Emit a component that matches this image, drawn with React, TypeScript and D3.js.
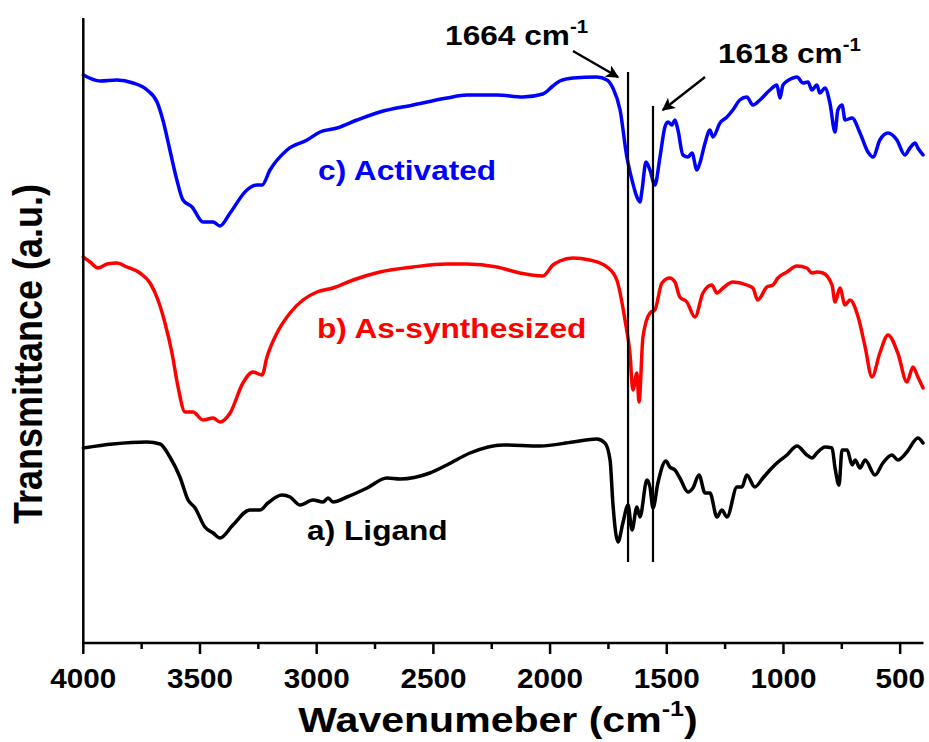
import React from "react";
import * as d3 from "d3";

// wavenumber (cm-1), transmittance (a.u., offset)
const ligandWn = [4000, 3873, 3727, 3671, 3629, 3586, 3551, 3521, 3479, 3444, 3414, 3359, 3286, 3243, 3209, 3149, 3114, 3071, 3016, 2973, 2951, 2930, 2870, 2784, 2699, 2643, 2515, 2442, 2343, 2202, 2043, 1902, 1800, 1765, 1743, 1731, 1709, 1688, 1666, 1649, 1628, 1615, 1585, 1572, 1559, 1538, 1504, 1487, 1465, 1444, 1409, 1388, 1362, 1336, 1315, 1285, 1264, 1242, 1199, 1178, 1157, 1123, 1088, 1058, 1028, 985, 942, 900, 878, 857, 822, 792, 779, 762, 749, 727, 706, 693, 672, 650, 608, 574, 535, 510, 471, 424, 402];
const ligandT = [195, 199, 201, 199, 186, 166, 143, 135, 116, 110, 105, 118, 133, 133, 140, 148, 146, 138, 143, 141, 145, 141, 146, 155, 165, 164, 170, 178, 190, 198, 197, 201, 204, 200, 183, 140, 101, 120, 138, 113, 136, 126, 163, 156, 135, 160, 182, 176, 173, 165, 151, 155, 168, 150, 150, 126, 133, 126, 156, 156, 168, 156, 165, 173, 180, 188, 197, 188, 185, 190, 196, 195, 175, 158, 193, 193, 178, 183, 175, 183, 168, 180, 188, 183, 191, 205, 200];

const asSynWn = [4000, 3971, 3937, 3898, 3856, 3813, 3757, 3714, 3680, 3650, 3620, 3594, 3564, 3530, 3487, 3444, 3414, 3371, 3316, 3273, 3234, 3213, 3170, 3114, 3059, 2999, 2930, 2844, 2729, 2587, 2442, 2356, 2228, 2130, 2031, 1988, 1958, 1902, 1830, 1756, 1714, 1679, 1658, 1645, 1628, 1619, 1602, 1572, 1551, 1521, 1487, 1465, 1444, 1414, 1379, 1345, 1307, 1285, 1259, 1217, 1157, 1131, 1110, 1071, 1045, 1024, 985, 942, 900, 878, 857, 831, 792, 779, 758, 736, 715, 680, 650, 621, 587, 552, 510, 471, 445, 424, 402];
const asSynT = [386, 381, 375, 379, 380, 376, 370, 360, 343, 320, 290, 256, 231, 231, 223, 225, 221, 230, 260, 271, 268, 286, 310, 330, 343, 351, 355, 363, 371, 376, 379, 379, 376, 370, 367, 378, 382, 385, 383, 376, 363, 323, 290, 253, 270, 241, 306, 330, 333, 360, 365, 361, 346, 341, 326, 350, 358, 350, 355, 361, 358, 355, 343, 356, 358, 365, 371, 377, 375, 370, 371, 370, 358, 341, 355, 338, 343, 326, 296, 266, 290, 308, 290, 261, 276, 266, 255];

const activWn = [4000, 3928, 3856, 3787, 3727, 3684, 3659, 3629, 3599, 3573, 3534, 3487, 3444, 3414, 3371, 3299, 3256, 3234, 3200, 3127, 3041, 2986, 2913, 2827, 2729, 2587, 2442, 2356, 2228, 2117, 2031, 1988, 1958, 1902, 1800, 1756, 1731, 1700, 1671, 1649, 1628, 1615, 1606, 1589, 1572, 1551, 1529, 1508, 1495, 1478, 1465, 1452, 1431, 1409, 1392, 1371, 1358, 1336, 1315, 1302, 1272, 1242, 1217, 1187, 1157, 1131, 1101, 1058, 1028, 1015, 1002, 959, 942, 916, 895, 878, 857, 844, 822, 801, 779, 767, 749, 736, 706, 672, 638, 616, 587, 552, 514, 480, 458, 436, 424, 402];
const activT = [568, 562, 563, 560, 553, 541, 523, 493, 463, 443, 436, 421, 421, 417, 430, 453, 458, 458, 473, 493, 503, 511, 515, 523, 531, 538, 545, 548, 548, 546, 549, 557, 562, 565, 566, 563, 555, 533, 486, 463, 446, 441, 453, 481, 473, 458, 486, 516, 521, 518, 523, 513, 488, 486, 490, 473, 480, 500, 513, 506, 520, 526, 533, 543, 546, 538, 543, 553, 558, 545, 558, 565, 566, 560, 561, 553, 558, 550, 555, 540, 511, 533, 538, 523, 525, 510, 491, 486, 503, 510, 503, 488, 495, 500, 495, 488];

const xMajorTicks = [4000, 3500, 3000, 2500, 2000, 1500, 1000, 500];
const xMinorTicks = [3750, 3250, 2750, 2250, 1750, 1250, 750];

// marker lines: wavenumber, top, bottom
const markerWn = [1666, 1559];
const markerTop = [571, 537];
const markerBottom = [81, 81];

// annotation labels and arrows (data coords)
const annoText = ["1664", "1618"];
const annoTextWn = [2450, 1281];
const annoTextT = [598, 580];
const arrowFromWn = [1902, 1336];
const arrowFromT = [592, 566];
const arrowToWn = [1709, 1517];
const arrowToT = [566, 533];

const seriesNames = ["a) Ligand", "b) As-synthesized", "c) Activated"];
const seriesColors = ["#000000", "#ff0000", "#0000ff"];
const seriesLabelWn = [3041, 2999, 2994];
const seriesLabelT = [103, 305, 463];

const FONT = "'Liberation Sans', Arial, Helvetica, sans-serif";
const SX = 1.13;
const SX_TICK = 1.06;

export default function App() {
  const width = 929;
  const height = 742;
  const x = d3.scaleLinear().domain([4000, 400]).range([83.3, 923.5]);
  const y = d3.scaleLinear().domain([0, 625]).range([643, 18]);

  const series = [
    { wn: ligandWn, t: ligandT },
    { wn: asSynWn, t: asSynT },
    { wn: activWn, t: activT },
  ];
  const line = d3
    .line<[number, number]>()
    .x((d) => x(d[0]))
    .y((d) => y(d[1]))
    .curve(d3.curveMonotoneX);

  const axisY = y(0);

  return (
    <svg
      width={width}
      height={height}
      style={{ position: "absolute", left: 0, top: 0, background: "#fff" }}
      fontFamily={FONT}
      fontWeight="bold"
    >
      <defs>
        <marker
          id="arrowHead"
          viewBox="0 0 10 10"
          refX="9"
          refY="5"
          markerUnits="userSpaceOnUse"
          markerWidth="15"
          markerHeight="13"
          orient="auto"
        >
          <path d="M0,0 L10,5 L0,10 L2.5,5 z" fill="#000" />
        </marker>
      </defs>
      <rect x={0} y={0} width={width} height={height} fill="#fff" />

      {/* curves */}
      {series.map((s, i) => (
        <path
          key={i}
          d={line(s.wn.map((w, j) => [w, s.t[j]] as [number, number])) || ""}
          fill="none"
          stroke={seriesColors[i]}
          strokeWidth={3.5}
          strokeLinejoin="round"
          strokeLinecap="round"
        />
      ))}

      {/* marker lines */}
      {markerWn.map((w, i) => (
        <line
          key={i}
          x1={x(w)}
          x2={x(w)}
          y1={y(markerTop[i])}
          y2={y(markerBottom[i])}
          stroke="#000"
          strokeWidth={2.2}
        />
      ))}

      {/* arrows */}
      {arrowFromWn.map((w, i) => (
        <line
          key={i}
          x1={x(w)}
          y1={y(arrowFromT[i])}
          x2={x(arrowToWn[i])}
          y2={y(arrowToT[i])}
          stroke="#000"
          strokeWidth={2.4}
          markerEnd="url(#arrowHead)"
        />
      ))}

      {/* annotation labels */}
      {annoText.map((t, i) => (
        <g key={i} transform={`translate(${x(annoTextWn[i])},${y(annoTextT[i])}) scale(${SX},1)`}>
          <text fontSize={28} fill="#000">
            {t} cm
            <tspan fontSize={18} dy={-12}>-1</tspan>
          </text>
        </g>
      ))}

      {/* series labels */}
      {seriesNames.map((n, i) => (
        <g key={i} transform={`translate(${x(seriesLabelWn[i])},${y(seriesLabelT[i])}) scale(${SX},1)`}>
          <text fontSize={28} fill={seriesColors[i]}>{n}</text>
        </g>
      ))}

      {/* axes */}
      <line x1={x(4000)} x2={x(4000)} y1={y(625)} y2={axisY + 1} stroke="#000" strokeWidth={2.5} />
      <line x1={x(4000) - 1} x2={x(400)} y1={axisY} y2={axisY} stroke="#000" strokeWidth={2.5} />
      {xMajorTicks.map((t) => (
        <g key={t}>
          <line x1={x(t)} x2={x(t)} y1={axisY} y2={axisY + 11} stroke="#000" strokeWidth={2.5} />
          <g transform={`translate(${x(t)},688) scale(${SX_TICK},1)`}>
            <text fontSize={28} textAnchor="middle" fill="#000">{t}</text>
          </g>
        </g>
      ))}
      {xMinorTicks.map((t) => (
        <line key={t} x1={x(t)} x2={x(t)} y1={axisY} y2={axisY + 6} stroke="#000" strokeWidth={2.5} />
      ))}

      {/* axis titles */}
      <g transform={`translate(498,732) scale(1.14,1)`}>
        <text fontSize={36} textAnchor="middle" fill="#000">
          Wavenumeber (cm
          <tspan fontSize={22} dy={-16}>-1</tspan>
          <tspan dy={16}>)</tspan>
        </text>
      </g>
      <g transform={`translate(42,354) scale(${SX},1) rotate(-90)`}>
        <text fontSize={36} textAnchor="middle" fill="#000">Transmittance (a.u.)</text>
      </g>
    </svg>
  );
}
